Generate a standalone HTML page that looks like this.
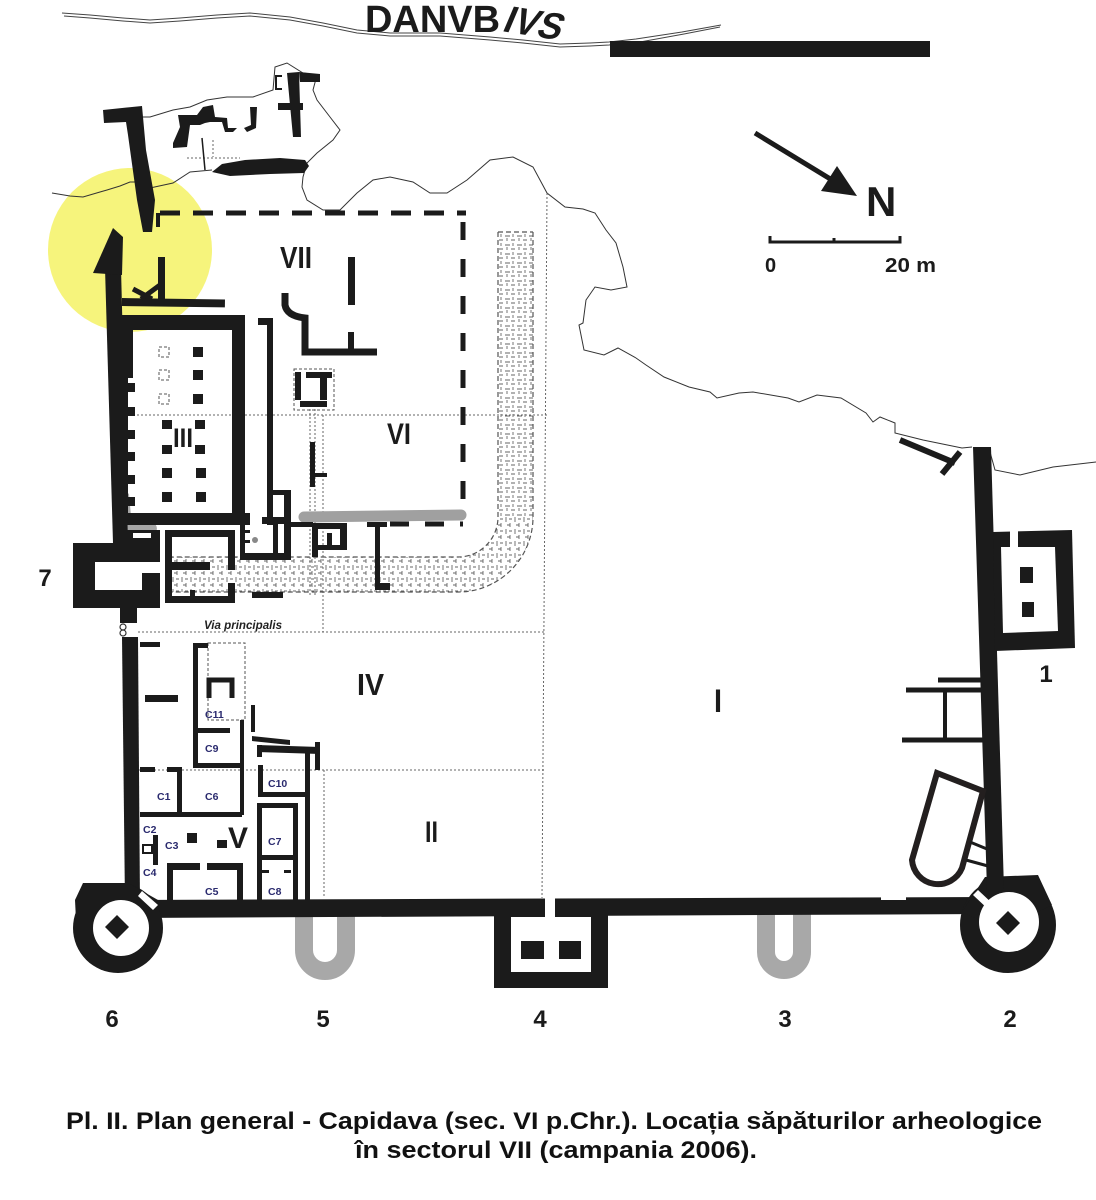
<!DOCTYPE html>
<html><head><meta charset="utf-8">
<style>
html,body{margin:0;padding:0;background:#fff;}
svg{display:block;}
text{font-family:"Liberation Sans",Arial,sans-serif;font-weight:bold;}
</style></head><body>
<svg width="1096" height="1200" viewBox="0 0 1096 1200" xmlns="http://www.w3.org/2000/svg">
<defs>
<pattern id="pv" width="12" height="9" patternUnits="userSpaceOnUse">
<path d="M1 2h5M7 6h4M3 4v3M9 0v3" stroke="#666" stroke-width="0.9" fill="none"/>
</pattern>
<pattern id="ph" width="9" height="12" patternUnits="userSpaceOnUse">
<path d="M2 1v5M6 7v4M3 9h3M5 3h3" stroke="#666" stroke-width="0.9" fill="none"/>
</pattern>
</defs>
<rect width="1096" height="1200" fill="#fff"/>

<!-- yellow circle -->
<circle cx="130" cy="250" r="82" fill="#f6f47c"/>

<!-- river (Danube) double line -->
<g fill="none" stroke="#444" stroke-width="1">
<polyline points="62,13 90,15 123,18 150,20 180,18 217,15 250,13 290,17 323,23 357,30 390,33 440,33 490,37 523,40 560,44 590,43 609,42 636,39 682,32 721,25"/>
<polyline points="64,16 90,18 123,21 150,23 180,21 217,18 250,16 290,20 323,26 357,33 390,36 440,36 490,40 523,43 560,47 590,46 609,45 640,42 684,34 720,27"/>
</g>
<text x="365" y="32" font-size="38" fill="#1b1b1b" textLength="135" lengthAdjust="spacingAndGlyphs">DANVB</text>
<text transform="translate(501,31) rotate(9) skewX(-14)" font-size="38" fill="#1b1b1b" textLength="58" lengthAdjust="spacingAndGlyphs">IVS</text>
<rect x="610" y="41" width="320" height="16" fill="#1b1b1b"/>

<!-- north arrow & scale -->
<line x1="755" y1="133" x2="832" y2="180" stroke="#1b1b1b" stroke-width="5"/>
<polygon points="857,196 821,191 837,166" fill="#1b1b1b"/>
<text x="866" y="216" font-size="42" fill="#1b1b1b">N</text>
<path d="M770,236 V242 H900 V236 M834,238 V242" stroke="#1b1b1b" stroke-width="3" fill="none"/>
<text x="765" y="272" font-size="20" fill="#1b1b1b">0</text>
<text x="885" y="272" font-size="20" fill="#1b1b1b" textLength="51" lengthAdjust="spacingAndGlyphs">20 m</text>

<!-- terrain outline -->
<g fill="none" stroke="#333" stroke-width="1">
<polyline points="52,193 70,196 83,197 100,192 107,190 120,186 130,182 140,182"/>
<polyline points="150,188 173,183 190,172 212,170"/>
<polyline points="142,117 150,117 173,110 190,107 207,100 227,97 253,97 273,90 275,67 287,63 303,73 317,75 313,90 317,100 330,117 340,130 333,140 317,153 307,163 303,177 302,187 307,200 323,210 340,210 357,193 373,180 390,177 413,182 430,193 447,193 467,180 490,160 513,157 533,167 540,180 547,193 565,207 583,209 595,213 606,230 616,243 623,267 627,287 611,290 595,287 586,300 583,323 579,325 584,350 604,355 618,348 636,358 646,365 664,377 689,387 710,392 717,398 739,393 753,392 788,398 799,402 817,395 841,398 866,413 873,422 880,417 895,423 895,433 923,440 962,448 972,447"/>
<polyline points="990,452 995,470 1020,475 1053,467 1096,462"/>
</g>

<!-- grid dotted lines -->
<g fill="none" stroke="#666" stroke-width="1" stroke-dasharray="2 2">
<line x1="547" y1="193" x2="542" y2="898"/>
<line x1="133" y1="415" x2="547" y2="415"/>
<line x1="138" y1="632" x2="545" y2="632"/>
<line x1="130" y1="770" x2="544" y2="770"/>
<line x1="323" y1="415" x2="323" y2="632"/>
<line x1="324" y1="770" x2="324" y2="898"/>
<line x1="310" y1="405" x2="310" y2="595"/>
<line x1="315" y1="405" x2="315" y2="595"/>
<line x1="213" y1="140" x2="213" y2="157"/>
<line x1="187" y1="158" x2="240" y2="158"/>
</g>

<!-- road (pavement) -->
<rect x="498" y="232" width="35" height="285" fill="url(#pv)"/>
<rect x="170" y="557" width="288" height="35" fill="url(#ph)"/>
<path d="M498,517 H533 A75 75 0 0 1 458,592 V557 A40 40 0 0 0 498,517 Z" fill="url(#ph)"/>
<g fill="none" stroke="#555" stroke-width="1.2" stroke-dasharray="5 3">
<path d="M533,232 V517 A75 75 0 0 1 458,592 H170"/>
<path d="M498,232 V517 A40 40 0 0 1 458,557 H172"/>
<path d="M498,232 H533"/>
</g>

<g fill="#1b1b1b">
<!-- top fragments -->
<polygon points="103,110 142,106 146,150 155,200 152,232 143,232 137,200 128,135 126,122 104,123"/>
<polygon points="173,143 180,127 178,115 197,115 203,107 213,105 215,117 227,118 228,128 237,128 233,132 225,132 222,122 210,122 205,123 200,125 190,125 187,147 173,148"/>
<polygon points="250,107 257,107 256,128 247,132 244,128 251,125"/>
<polygon points="287,73 299,72 301,137 293,137"/>
<polygon points="299,72 320,74 320,82 300,82"/>
<rect x="278" y="103" width="25" height="7"/>
<polygon points="212,172 222,164 245,160 280,158 305,160 309,166 304,173 270,174 230,176"/>
</g>
<line x1="202" y1="138" x2="205" y2="170" stroke="#1b1b1b" stroke-width="1.5"/>
<path d="M282,76 H276 V89 H282" stroke="#1b1b1b" stroke-width="2" fill="none"/>

<!-- VII dashed boundary -->
<line x1="158" y1="213" x2="158" y2="227" stroke="#1b1b1b" stroke-width="4"/>
<line x1="160" y1="213" x2="466" y2="213" stroke="#1b1b1b" stroke-width="5" stroke-dasharray="20 13"/>
<line x1="463" y1="222" x2="463" y2="512" stroke="#1b1b1b" stroke-width="5" stroke-dasharray="18 19"/>
<line x1="390" y1="524" x2="463" y2="524" stroke="#1b1b1b" stroke-width="5" stroke-dasharray="19 16"/>

<!-- gray smudges -->
<line x1="304" y1="517" x2="461" y2="515" stroke="#a0a0a0" stroke-width="11" stroke-linecap="round"/>
<path d="M118,494 Q124,489 129,494 L131,516 Q140,519 152,521 Q159,526 156,532 L121,532 Q116,528 117,512 Z" fill="#a6a6a6"/>

<g fill="#1b1b1b">
<!-- left wall upper + arrow -->
<polygon points="105,268 121,268 128,543 113,543"/>
<polygon points="93,273 113,228 123,237 122,275"/>
<!-- K detail and bar -->
<rect x="158" y="257" width="7" height="43"/>
<rect x="122" y="298" width="103" height="8" transform="rotate(0.8 122 298)"/>
</g>
<path d="M133,289 L152,299 M141,299 L160,285" stroke="#1b1b1b" stroke-width="5" fill="none"/>

<g fill="#1b1b1b">
<!-- Room III -->
<rect x="108" y="315" width="137" height="15"/>
<rect x="118" y="330" width="15" height="48"/>
<rect x="118" y="378" width="10" height="147"/>
<rect x="127" y="383" width="8" height="9"/>
<rect x="127" y="407" width="8" height="9"/>
<rect x="127" y="430" width="8" height="9"/>
<rect x="127" y="452" width="8" height="9"/>
<rect x="127" y="475" width="8" height="9"/>
<rect x="127" y="497" width="8" height="9"/>
<rect x="232" y="315" width="13" height="210"/>
<rect x="128" y="513" width="122" height="12"/>
<rect x="193" y="347" width="10" height="10"/>
<rect x="193" y="370" width="10" height="10"/>
<rect x="193" y="394" width="10" height="10"/>
<rect x="162" y="420" width="10" height="9"/>
<rect x="195" y="420" width="10" height="9"/>
<rect x="162" y="445" width="10" height="9"/>
<rect x="195" y="445" width="10" height="9"/>
<rect x="162" y="468" width="10" height="10"/>
<rect x="196" y="468" width="10" height="10"/>
<rect x="162" y="492" width="10" height="10"/>
<rect x="196" y="492" width="10" height="10"/>
</g>
<g fill="none" stroke="#555" stroke-width="1" stroke-dasharray="3 2">
<rect x="159" y="347" width="10" height="10"/>
<rect x="159" y="370" width="10" height="10"/>
<rect x="159" y="394" width="10" height="10"/>
<rect x="294" y="369" width="40" height="41"/>
<rect x="208" y="643" width="37" height="77"/>
</g>
<text x="173" y="447" font-size="27" fill="#1b1b1b" textLength="20" lengthAdjust="spacingAndGlyphs">III</text>

<g fill="#1b1b1b">
<!-- long wall right of III and small rooms -->
<rect x="258" y="318" width="15" height="7"/>
<rect x="267" y="318" width="6" height="207"/>
<rect x="273" y="490" width="18" height="5"/>
<rect x="284" y="490" width="7" height="70"/>
<rect x="262" y="517" width="28" height="7"/>
<rect x="273" y="524" width="5" height="30"/>
<rect x="240" y="523" width="5" height="37"/>
<rect x="240" y="553" width="51" height="7"/>
<rect x="245" y="530" width="5" height="3"/>
<rect x="245" y="540" width="5" height="3"/>
<rect x="252" y="592" width="31" height="6"/>
<!-- VII structures -->
<rect x="348" y="257" width="7" height="48"/>
<rect x="348" y="332" width="6" height="20"/>
<rect x="295" y="372" width="6" height="28"/>
<rect x="306" y="372" width="26" height="6"/>
<rect x="320" y="377" width="7" height="23"/>
<rect x="300" y="401" width="27" height="6"/>
<!-- VI structures -->
<rect x="310" y="442" width="5" height="45"/>
<rect x="315" y="473" width="12" height="4"/>
<rect x="290" y="522" width="23" height="5"/>
<rect x="312" y="523" width="6" height="34"/>
<rect x="312" y="523" width="35" height="6"/>
<rect x="340" y="523" width="7" height="27"/>
<rect x="327" y="533" width="5" height="14"/>
<rect x="312" y="545" width="33" height="5"/>
<rect x="367" y="522" width="20" height="5"/>
<rect x="375" y="522" width="5" height="68"/>
<rect x="375" y="583" width="15" height="7"/>
<!-- room by gate -->
<rect x="165" y="530" width="70" height="7"/>
<rect x="165" y="530" width="7" height="73"/>
<rect x="228" y="530" width="7" height="40"/>
<rect x="228" y="583" width="7" height="20"/>
<rect x="165" y="562" width="45" height="8"/>
<rect x="165" y="596" width="70" height="7"/>
<rect x="190" y="590" width="5" height="13"/>
<!-- gate 7 -->
<rect x="113" y="530" width="47" height="13"/>
<rect x="73" y="543" width="87" height="65"/>
<rect x="120" y="608" width="17" height="15"/>
</g>
<path d="M285,293 V305 Q287,316 305,318 V352 H377" stroke="#1b1b1b" stroke-width="7" fill="none"/>
<rect x="133" y="533" width="18" height="5" fill="#fff"/>
<rect x="95" y="562" width="47" height="28" fill="#fff"/>
<rect x="142" y="562" width="18" height="11" fill="#fff"/>
<circle cx="255" cy="540" r="3" fill="#888"/>
<circle cx="123" cy="627" r="3" fill="none" stroke="#333" stroke-width="1.2"/>
<circle cx="123" cy="633" r="3" fill="none" stroke="#333" stroke-width="1.2"/>
<text x="204" y="629" font-size="12" font-style="italic" fill="#222" textLength="78" lengthAdjust="spacingAndGlyphs">Via principalis</text>

<g fill="#1b1b1b">
<!-- left wall lower -->
<polygon points="122,637 138,637 140,905 125,905"/>
<rect x="140" y="642" width="20" height="5"/>
<rect x="145" y="695" width="33" height="7"/>
<!-- C rooms -->
<rect x="193" y="643" width="5" height="124"/>
<rect x="193" y="643" width="15" height="5"/>
<rect x="240" y="720" width="4" height="95"/>
<rect x="198" y="728" width="32" height="5"/>
<rect x="193" y="763" width="49" height="5"/>
<rect x="140" y="767" width="15" height="5"/>
<rect x="167" y="767" width="13" height="5"/>
<rect x="177" y="767" width="5" height="48"/>
<rect x="140" y="812" width="102" height="5"/>
<rect x="153" y="835" width="5" height="30"/>
<rect x="187" y="833" width="10" height="10"/>
<rect x="217" y="840" width="10" height="8"/>
<rect x="167" y="863" width="33" height="7"/>
<rect x="207" y="863" width="35" height="7"/>
<rect x="167" y="863" width="6" height="37"/>
<rect x="237" y="863" width="6" height="37"/>
<polygon points="252,736 290,740 290,745 252,741"/>
<rect x="251" y="705" width="4" height="27"/>
<polygon points="257,745 320,747 320,754 257,752"/>
<rect x="305" y="747" width="5" height="153"/>
<rect x="315" y="742" width="5" height="28"/>
<rect x="257" y="745" width="5" height="12"/>
<rect x="258" y="765" width="5" height="32"/>
<rect x="258" y="792" width="49" height="5"/>
<rect x="257" y="803" width="41" height="5"/>
<rect x="257" y="803" width="5" height="97"/>
<rect x="293" y="803" width="5" height="97"/>
<rect x="258" y="855" width="39" height="5"/>
<rect x="262" y="870" width="7" height="3"/>
<rect x="284" y="870" width="7" height="3"/>
</g>
<path d="M209,698 V680 H232 V698" stroke="#1b1b1b" stroke-width="5" fill="none"/>
<rect x="143" y="845" width="9" height="8" fill="none" stroke="#1b1b1b" stroke-width="2"/>

<g font-size="10.5" fill="#2a2a6e">
<text x="205" y="718">C11</text>
<text x="205" y="752">C9</text>
<text x="157" y="800">C1</text>
<text x="205" y="800">C6</text>
<text x="143" y="833">C2</text>
<text x="165" y="849">C3</text>
<text x="143" y="876">C4</text>
<text x="205" y="895">C5</text>
<text x="268" y="787">C10</text>
<text x="268" y="845">C7</text>
<text x="268" y="895">C8</text>
</g>

<!-- gray U towers -->
<path d="M304,914 V950 A21 21 0 0 0 346,950 V914" stroke="#a8a8a8" stroke-width="18" fill="none"/>
<path d="M766,912 V952 A18 18 0 0 0 802,952 V912" stroke="#a8a8a8" stroke-width="18" fill="none"/>

<g fill="#1b1b1b">
<!-- bottom wall -->
<polygon points="125,900 990,897 990,914 125,918"/>
<!-- tower 6 -->
<circle cx="118" cy="928" r="45"/>
<polygon points="83,883 128,883 158,900 158,920 76,920 75,900"/>
<!-- tower 4 -->
<rect x="494" y="900" width="114" height="88"/>
<!-- tower 2 -->
<circle cx="1008" cy="925" r="48"/>
<polygon points="962,912 985,877 1038,875 1052,905 1000,930"/>
<!-- right wall -->
<polygon points="973,447 991,447 1004,890 987,890"/>
<!-- tower 1 -->
<polygon points="993,532 1072,530 1075,648 995,651"/>
</g>
<circle cx="121" cy="928" r="28" fill="#fff"/>
<polygon points="117,915 129,927 117,939 105,927" fill="#1b1b1b"/>
<polygon points="138,896 142,891 158,905 153,910" fill="#fff"/>
<rect x="511" y="917" width="80" height="55" fill="#fff"/>
<rect x="545" y="897" width="10" height="20" fill="#fff"/>
<rect x="521" y="941" width="23" height="18" fill="#1b1b1b"/>
<rect x="559" y="941" width="22" height="18" fill="#1b1b1b"/>
<circle cx="1009" cy="922" r="30" fill="#fff"/>
<polygon points="1008,911 1020,923 1008,935 996,923" fill="#1b1b1b"/>
<polygon points="973,895 978,890 994,905 989,910" fill="#fff"/>
<rect x="881" y="896" width="25" height="4" fill="#fff"/>
<polygon points="1001,547 1055,547 1058,631 1003,633" fill="#fff"/>
<rect x="1010" y="530" width="8" height="17" fill="#fff"/>
<rect x="1020" y="567" width="13" height="16" fill="#1b1b1b"/>
<rect x="1022" y="602" width="12" height="15" fill="#1b1b1b"/>

<!-- right side structures -->
<g stroke="#1b1b1b" fill="none">
<line x1="900" y1="440" x2="955" y2="463" stroke-width="6"/>
<line x1="942" y1="474" x2="960" y2="452" stroke-width="6"/>
<line x1="938" y1="680" x2="982" y2="680" stroke-width="5"/>
<line x1="906" y1="690" x2="982" y2="690" stroke-width="5"/>
<line x1="902" y1="740" x2="984" y2="740" stroke-width="5"/>
<line x1="945" y1="692" x2="945" y2="738" stroke-width="4"/>
<path d="M937,773 L983,791 L962,868 A26 26 0 0 1 912,860 Z" stroke="#231f1f" stroke-width="6"/>
<path d="M970,842 L987,849 M966,860 L988,866" stroke-width="3"/>
</g>

<!-- labels -->
<g fill="#1b1b1b">
<text x="280" y="268" font-size="31" textLength="32" lengthAdjust="spacingAndGlyphs">VII</text>
<text x="387" y="444" font-size="30" textLength="24" lengthAdjust="spacingAndGlyphs">VI</text>
<text x="357" y="695" font-size="31" textLength="27" lengthAdjust="spacingAndGlyphs">IV</text>
<text x="425" y="842" font-size="30" textLength="13" lengthAdjust="spacingAndGlyphs">II</text>
<text x="714" y="712" font-size="32" textLength="8" lengthAdjust="spacingAndGlyphs">I</text>
<text x="228" y="848" font-size="30" textLength="20" lengthAdjust="spacingAndGlyphs">V</text>
<g font-size="24" text-anchor="middle">
<text x="45" y="586">7</text>
<text x="1046" y="682">1</text>
<text x="112" y="1027">6</text>
<text x="323" y="1027">5</text>
<text x="540" y="1027">4</text>
<text x="785" y="1027">3</text>
<text x="1010" y="1027">2</text>
</g>
<g font-size="24" text-anchor="middle" fill="#111">
<text x="554" y="1129" textLength="976" lengthAdjust="spacingAndGlyphs">Pl. II. Plan general - Capidava (sec. VI p.Chr.). Locația săpăturilor arheologice</text>
<text x="556" y="1158" textLength="402" lengthAdjust="spacingAndGlyphs">în sectorul VII (campania 2006).</text>
</g>
</g>
</svg>
</body></html>
